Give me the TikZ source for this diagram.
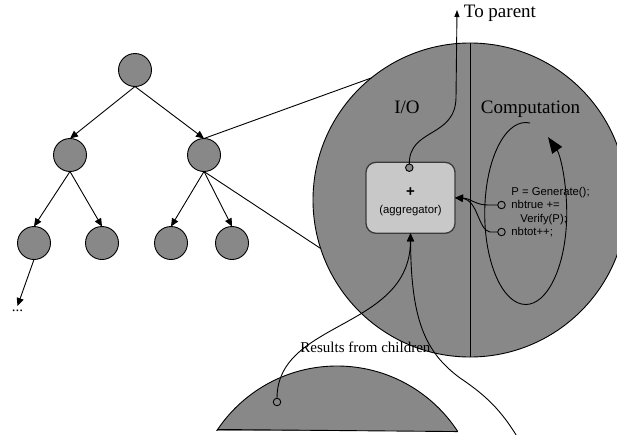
\documentclass[tikz,border=0pt]{standalone}
\usepackage{fontspec}
\setmainfont{Liberation Serif}
\setsansfont{Liberation Sans}
\usetikzlibrary{arrows.meta}
\definecolor{nodegray}{HTML}{888888}
\definecolor{boxgray}{HTML}{C8C8C8}
\definecolor{boxedge}{HTML}{3A3A3A}

\begin{document}
\begin{tikzpicture}[x=1pt,y=1pt,line width=0.9pt,
  treenode/.style={circle, draw, fill=nodegray, minimum size=33pt, inner sep=0pt, outer sep=0pt},
  edge/.style={-{Triangle[length=8pt,width=7pt]}},
  boxarrow/.style={-{Triangle[length=8pt,width=7pt]}},
  port/.style={circle, draw, fill=nodegray, minimum size=7.5pt, inner sep=0pt, outer sep=0pt},
  title/.style={font=\fontsize{19}{22}\selectfont, inner sep=0pt, anchor=base},
  label/.style={font=\fontsize{15}{18}\selectfont, inner sep=0pt},
  code/.style={font=\sffamily\fontsize{11.3}{13}\selectfont, inner sep=0pt, anchor=base west},
]
\useasboundingbox (0,0) rectangle (617,-434);
\clip (0,0) rectangle (617,-434);

% ---- the tree ----
\node[treenode] (r)  at (135,-70)  {};
\node[treenode] (a)  at (70,-155)  {};
\node[treenode] (b)  at (204,-155) {};
\node[treenode] (a1) at (34,-243)  {};
\node[treenode] (a2) at (102,-243) {};
\node[treenode] (b1) at (171,-243) {};
\node[treenode] (b2) at (232,-243) {};
\node[label, anchor=base] (dots) at (17.5,-311) {...};

\draw[edge] (r.south) -- (a.north);
\draw[edge] (r.south) -- (b.north);
\draw[edge] (a.south) -- (a1.north);
\draw[edge] (a.south) -- (a2.north);
\draw[edge] (b.south) -- (b1.north);
\draw[edge] (b.south) -- (b2.north);
\draw[edge] (a1.south) -- ([yshift=3pt]dots.north);

% ---- magnified node ----
\node[circle, draw, fill=nodegray, minimum size=314pt, inner sep=0pt, outer sep=0pt] (zoom) at (470,-200) {};
\draw (zoom.north) -- (zoom.south);
\draw (b.north) -- (zoom.129.3);
\draw (b.south) -- (zoom.198.5);

\node[title] (io)   at (407,-113)   {I/O};
\node[title] (comp) at (530.5,-113) {Computation};

% aggregator box
\node[draw=boxedge, fill=boxgray, rounded corners=10pt, line width=1.3pt,
      minimum width=89pt, minimum height=71pt, inner sep=0pt, outer sep=0pt] (agg) at (410.5,-197.8) {};
\node[font=\sffamily\bfseries\fontsize{15}{18}\selectfont, inner sep=0pt, anchor=base] (plus) at (410.5,-196.5) {+};
\node[font=\sffamily\fontsize{11.3}{13}\selectfont, inner sep=0pt, anchor=base] (aggtext) at (410.5,-213.3) {(aggregator)};

% output to the parent
\node[port] (up) at (409.3,-167.7) {};
\coordinate (parentpt) at (457,-10);
\node[title, anchor=base west] (parent) at (463.5,-17) {To parent};
\draw[-{Triangle[length=7pt,width=5pt]}] (up.north) .. controls (409,-128) and (455,-138) .. (456,-98) -- (parentpt);

% computation loop
\node[code] (l1) at (511,-195.7) {P = Generate();};
\node[code] (l2) at (511,-208.3) {nbtrue +=};
\node[code] (l3) at (520,-222.3) {Verify(P);};
\node[code] (l4) at (511,-235.7) {nbtot++;};
\coordinate (loopstart) at (530,-123);
\draw[-{Triangle[length=16pt,width=12pt]}] (loopstart) arc[start angle=84, end angle=417, x radius=41, y radius=91];

\node[port] (p1) at (501.5,-205) {};
\node[port] (p2) at (501.5,-232) {};
\draw[boxarrow] (p1.west) -- (488,-205) .. controls (475,-205) and (470,-198) .. (agg.east);
\draw[boxarrow] (p2.west) -- (490,-232) .. controls (478,-230) and (478,-200) .. (agg.east);

% ---- a child node below ----
\begin{scope}
  \clip (0,-430.5) rectangle (617,0);
  \node[circle, draw, fill=nodegray, minimum size=288pt, inner sep=0pt, outer sep=0pt] (kid) at (337,-510) {};
\end{scope}
\draw (kid.146.25) -- (kid.33.75);
\node[port] (kp) at (277,-402) {};
\coordinate (offkid) at (522,-445);

\node[label, anchor=base west] (results) at (300,-352) {Results from children};

\draw[boxarrow] (kp.north) .. controls (277,-320) and (410,-330) .. (agg.south);
\draw[boxarrow] (offkid) .. controls (505,-415) and (490,-398) .. (460,-378)
                .. controls (425,-352) and (411,-320) .. (agg.south);
\end{tikzpicture}
\end{document}
